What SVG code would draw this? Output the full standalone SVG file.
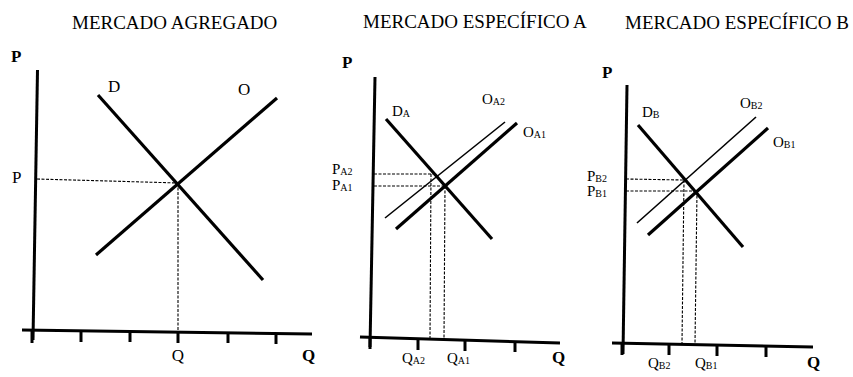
<svg xmlns="http://www.w3.org/2000/svg" width="853" height="377" viewBox="0 0 853 377">
<style>
text{font-family:"Liberation Serif","Times New Roman",serif;fill:#000}
.title{font-size:19px}
.ax{font-size:17px;font-weight:bold}
.lbl{font-size:17px}
.slbl{font-size:15px}
.sub{font-size:10px}
.axis{stroke:#000;stroke-width:3;fill:none;stroke-linecap:butt}
.tick{stroke:#000;stroke-width:3}
.thick{stroke:#000;stroke-width:3.2;fill:none}
.thin{stroke:#000;stroke-width:1.6;fill:none}
.dash{stroke:#000;stroke-width:1.1;stroke-dasharray:3 1.5;fill:none}
</style>
<rect width="853" height="377" fill="#fff"/>

<g id="panel-agregado">
<text class="title" x="72" y="29">MERCADO AGREGADO</text>
<text class="ax" x="11" y="62">P</text>
<line class="axis" x1="37.5" y1="70" x2="33" y2="340"/>
<line class="axis" x1="22" y1="330" x2="312" y2="334"/>
<line class="tick" x1="32" y1="330" x2="32" y2="343"/>
<line class="tick" x1="81" y1="331" x2="81" y2="342"/>
<line class="tick" x1="130" y1="331" x2="130" y2="342"/>
<line class="tick" x1="178" y1="332" x2="178" y2="343"/>
<line class="tick" x1="228" y1="332" x2="228" y2="343"/>
<line class="tick" x1="276" y1="333" x2="276" y2="344"/>
<text class="ax" x="302" y="361">Q</text>
<text class="lbl" x="178" y="361" text-anchor="middle">Q</text>
<text class="lbl" x="12" y="183">P</text>
<text class="lbl" x="108" y="92">D</text>
<text class="lbl" x="238" y="95">O</text>
<line class="dash" x1="37" y1="179" x2="178" y2="183"/>
<line class="dash" x1="178" y1="183" x2="178" y2="332"/>
<line class="thick" x1="98" y1="95" x2="263" y2="280"/>
<line class="thick" x1="96" y1="255" x2="277" y2="98"/>
</g>

<g id="panel-a">
<text class="title" x="363" y="28">MERCADO ESPECÍFICO A</text>
<text class="ax" x="342" y="68">P</text>
<line class="axis" x1="375" y1="77" x2="370" y2="347"/>
<line class="axis" x1="360" y1="337" x2="560" y2="343"/>
<line class="tick" x1="370" y1="337" x2="370" y2="349"/>
<line class="tick" x1="418" y1="338" x2="418" y2="350"/>
<line class="tick" x1="465" y1="340" x2="465" y2="351"/>
<line class="tick" x1="515" y1="341" x2="515" y2="352"/>
<text class="ax" x="552" y="363">Q</text>
<text class="slbl" x="402" y="363">Q<tspan class="sub" dy="1">A2</tspan></text>
<text class="slbl" x="447" y="363">Q<tspan class="sub" dy="1">A1</tspan></text>
<text class="slbl" x="332" y="174">P<tspan class="sub" dy="1">A2</tspan></text>
<text class="slbl" x="332" y="190">P<tspan class="sub" dy="1">A1</tspan></text>
<text class="slbl" x="392" y="116">D<tspan class="sub" dy="1">A</tspan></text>
<text class="slbl" x="482" y="104">O<tspan class="sub" dy="1">A2</tspan></text>
<text class="slbl" x="523" y="137">O<tspan class="sub" dy="1">A1</tspan></text>
<line class="dash" x1="374" y1="174" x2="433" y2="174"/>
<line class="dash" x1="374" y1="186" x2="445" y2="186"/>
<line class="dash" x1="431" y1="174" x2="430" y2="338"/>
<line class="dash" x1="445" y1="186" x2="444" y2="339"/>
<line class="thick" x1="386" y1="119" x2="492" y2="239"/>
<line class="thin" x1="385" y1="218" x2="505" y2="122"/>
<line class="thick" x1="396" y1="229" x2="517" y2="123"/>
</g>

<g id="panel-b">
<text class="title" x="625" y="29">MERCADO ESPECÍFICO B</text>
<text class="ax" x="602" y="78">P</text>
<line class="axis" x1="627" y1="85" x2="623" y2="354"/>
<line class="axis" x1="612" y1="343" x2="813" y2="347"/>
<line class="tick" x1="622" y1="343" x2="622" y2="355"/>
<line class="tick" x1="669" y1="344" x2="669" y2="355"/>
<line class="tick" x1="717" y1="345" x2="717" y2="356"/>
<line class="tick" x1="766" y1="346" x2="766" y2="357"/>
<text class="ax" x="807" y="368">Q</text>
<text class="slbl" x="648" y="368">Q<tspan class="sub" dy="1">B2</tspan></text>
<text class="slbl" x="695" y="368">Q<tspan class="sub" dy="1">B1</tspan></text>
<text class="slbl" x="587" y="181">P<tspan class="sub" dy="1">B2</tspan></text>
<text class="slbl" x="587" y="196">P<tspan class="sub" dy="1">B1</tspan></text>
<text class="slbl" x="642" y="117">D<tspan class="sub" dy="1">B</tspan></text>
<text class="slbl" x="740" y="108">O<tspan class="sub" dy="1">B2</tspan></text>
<text class="slbl" x="773" y="147">O<tspan class="sub" dy="1">B1</tspan></text>
<line class="dash" x1="626" y1="179" x2="684" y2="180"/>
<line class="dash" x1="626" y1="191" x2="697" y2="191"/>
<line class="dash" x1="684" y1="180" x2="682" y2="343"/>
<line class="dash" x1="697" y1="191" x2="695" y2="344"/>
<line class="thick" x1="638" y1="125" x2="743" y2="247"/>
<line class="thin" x1="637" y1="223" x2="756" y2="117"/>
<line class="thick" x1="648" y1="235" x2="768" y2="128"/>
</g>
</svg>
